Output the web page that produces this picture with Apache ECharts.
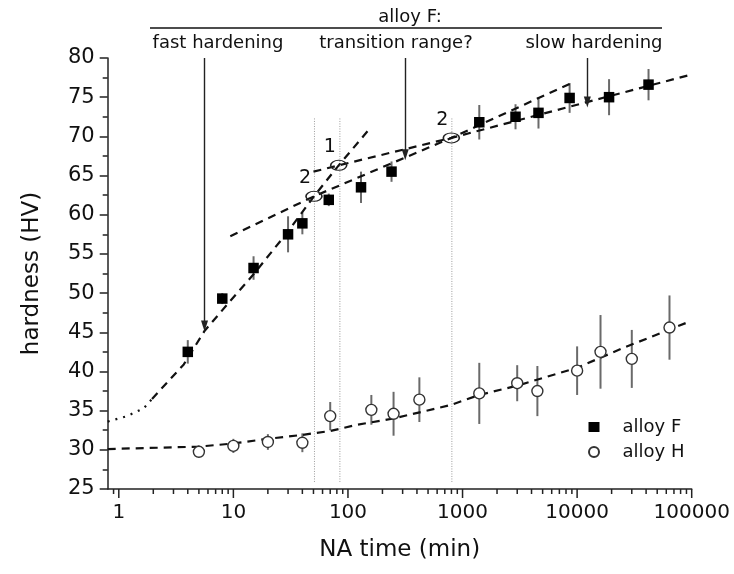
<!DOCTYPE html>
<html>
<head>
<meta charset="utf-8">
<script src="https://cdn.jsdelivr.net/npm/echarts@6/dist/echarts.min.js"></script>
<style>html,body{margin:0;padding:0;background:#fff}#c{width:734px;height:574px}</style>
</head>
<body>
<div id="c"></div>
<script>
// ---- data ----
var fTime = [4, 8, 15, 30, 40, 68, 130, 240, 1400, 2900, 4600, 8600, 19000, 42000];
var fHard = [42.5, 49.3, 53.2, 57.5, 58.9, 61.9, 63.5, 65.5, 71.8, 72.5, 73.0, 74.9, 75.0, 76.6];
var fErr  = [1.5, 0.7, 1.5, 2.3, 1.4, 0.8, 2.0, 1.3, 2.2, 1.6, 2.0, 1.9, 2.3, 2.0];

var hTime = [5, 10, 20, 40, 70, 160, 250, 420, 1400, 3000, 4500, 10000, 16000, 30000, 64000];
var hHard = [29.75, 30.5, 31.0, 30.9, 34.3, 35.1, 34.6, 36.4, 37.2, 38.5, 37.5, 40.1, 42.5, 41.6, 45.6];
var hErr  = [0.7, 0.9, 1.0, 1.2, 1.8, 1.9, 2.8, 2.85, 3.9, 2.3, 3.2, 3.1, 4.7, 3.7, 4.1];

// fitted / guide lines
var fitFDotT  = [0.8, 1.18, 1.65, 1.95];
var fitFDotV  = [33.6, 34.3, 35.3, 36.5];
var fitFDashT = [1.95, 3.69, 5.62, 9.4, 15, 29.4, 50.5, 83, 151];
var fitFDashV = [36.5, 40.9, 45.2, 49.0, 52.4, 57.7, 62.35, 66.3, 70.8];
var slowT  = [50, 83, 798, 100000];
var slowV  = [65.5, 66.3, 69.8, 77.9];
var transT = [9.4, 50.5, 798, 9550];
var transV = [57.25, 62.35, 69.8, 77.0];
var fitHT  = [0.8, 4.9, 9.9, 19.9, 39.7, 70, 120, 250, 780, 1400, 3030, 10100, 25300, 97000];
var fitHV  = [30.1, 30.4, 30.8, 31.4, 31.9, 32.4, 33.2, 34.0, 35.7, 37.0, 38.2, 40.5, 43.0, 46.4];

// vertical dotted markers
var vLineT = [51, 85, 807];
var vLineLo = 25.9, vLineHi = 72.4;

// intersection ellipses
var markT = [83, 50.5, 798];
var markV = [66.3, 62.35, 69.8];
var markLabel = ['1', '2', '2'];

// arrows
var arrowT = [5.6, 316, 12280];
var arrowTip = [45.8, 67.65, 74.4];
var arrowTop = 80;

// axes
var xMajorTicks = [1, 10, 100, 1000, 10000, 100000];
var xMinorTicks = [0.9, 2,3,4,5,6,7,8,9, 20,30,40,50,60,70,80,90, 200,300,400,500,600,700,800,900,
                   2000,3000,4000,5000,6000,7000,8000,9000, 20000,30000,40000,50000,60000,70000,80000,90000];
var yMin = 25, yMax = 80, yStep = 5;
var xMin = 0.8, xMax = 100000;

var FONT = 'DejaVu Sans';

function pairs(a, b) { return a.map(function (t, i) { return [t, b[i]]; }); }

function errSeries(t, v, e) {
  return {
    type: 'custom', silent: true, z: 1,
    data: t.map(function (x, i) { return [x, v[i] - e[i], v[i] + e[i]]; }),
    encode: { x: 0, y: [1, 2] },
    renderItem: function (params, api) {
      var p1 = api.coord([api.value(0), api.value(1)]);
      var p2 = api.coord([api.value(0), api.value(2)]);
      return { type: 'line', shape: { x1: p1[0], y1: p1[1], x2: p2[0], y2: p2[1] },
               style: { stroke: '#6a6a6a', lineWidth: 2 } };
    }
  };
}
function tickSeries(list, len) {
  return {
    type: 'custom', silent: true, clip: false,
    data: list.map(function (t) { return [t, yMin]; }),
    encode: { x: 0, y: 1 },
    renderItem: function (params, api) {
      var p = api.coord([api.value(0), api.value(1)]);
      return { type: 'line', shape: { x1: p[0], y1: p[1], x2: p[0], y2: p[1] + len },
               style: { stroke: '#222', lineWidth: 1.5 } };
    }
  };
}
function lineSeries(t, v, dash, z) {
  return { type: 'line', data: pairs(t, v), showSymbol: false, symbol: 'none', silent: true, z: z || 2,
           lineStyle: { color: '#111', width: 2.2, type: dash } };
}

var series = [];
vLineT.forEach(function (t) {
  series.push({ type: 'line', data: [[t, vLineLo], [t, vLineHi]], symbol: 'none', silent: true, z: 0,
                lineStyle: { color: '#9a9a9a', width: 1, type: [1, 1.5] } });
});
series.push(lineSeries(fitFDotT, fitFDotV, [2, 6]));
series.push(lineSeries(fitFDashT, fitFDashV, [8, 6]));
series.push(lineSeries(slowT, slowV, [8, 6]));
series.push(lineSeries(transT, transV, [8, 6]));
series.push(lineSeries(fitHT, fitHV, [8, 6]));
series.push(errSeries(fTime, fHard, fErr));
series.push(errSeries(hTime, hHard, hErr));
series.push({ name: 'alloy F', type: 'scatter', data: pairs(fTime, fHard), symbol: 'rect', symbolSize: 10.5, z: 5,
              itemStyle: { color: '#000', opacity: 1 } });
series.push({ name: 'alloy H', type: 'scatter', data: pairs(hTime, hHard), symbol: 'circle', symbolSize: 11, z: 5,
              itemStyle: { color: '#fff', borderColor: '#333', borderWidth: 1.4, opacity: 1 } });
series.push({
  type: 'scatter', silent: true, z: 6,
  data: markT.map(function (t, i) { return { value: [t, markV[i]], name: markLabel[i] }; }),
  symbol: 'circle', symbolSize: [16, 10],
  itemStyle: { color: 'rgba(0,0,0,0)', borderColor: '#222', borderWidth: 1.3, opacity: 1 },
  label: { show: true, formatter: '{b}', position: 'top', offset: [-9, 2], color: '#111', fontFamily: FONT, fontSize: 19 },
  markLine: {
    silent: true, symbol: ['none', 'triangle'], symbolSize: [7, 11], label: { show: false },
    lineStyle: { color: '#222', width: 1.4, type: 'solid' },
    data: arrowT.map(function (t, i) { return [{ coord: [t, arrowTop] }, { coord: [t, arrowTip[i]] }]; })
  }
});
series.push(tickSeries(xMajorTicks, 9));
series.push(tickSeries(xMinorTicks, 5));

var option = {
  backgroundColor: '#fff',
  animation: false,
  grid: { left: 107.7, right: 42.3, top: 58, bottom: 85 },
  xAxis: {
    type: 'log', min: xMin, max: xMax, logBase: 10,
    name: 'NA time (min)', nameLocation: 'middle', nameGap: 50,
    nameTextStyle: { fontFamily: FONT, fontSize: 23, color: '#111' },
    axisLine: { lineStyle: { color: '#222', width: 1.5 } },
    axisTick: { show: false }, minorTick: { show: false },
    splitLine: { show: false },
    axisLabel: { fontFamily: FONT, fontSize: 20, color: '#111', margin: 14, showMinLabel: false,
      formatter: function (v) {
        for (var i = 0; i < xMajorTicks.length; i++) if (Math.abs(v - xMajorTicks[i]) / xMajorTicks[i] < 1e-6) return String(xMajorTicks[i]);
        return '';
      } }
  },
  yAxis: {
    type: 'value', min: yMin, max: yMax, interval: yStep,
    name: 'hardness (HV)', nameLocation: 'middle', nameGap: 64, nameRotate: 90,
    nameTextStyle: { fontFamily: FONT, fontSize: 23, color: '#111' },
    axisLine: { show: true, lineStyle: { color: '#222', width: 1.5 } },
    axisTick: { show: true, length: 8, lineStyle: { color: '#222', width: 1.5 } },
    minorTick: { show: true, splitNumber: 2, length: 5, lineStyle: { color: '#222', width: 1.5 } },
    splitLine: { show: false },
    axisLabel: { fontFamily: FONT, fontSize: 21, color: '#111', margin: 13 }
  },
  legend: {
    data: ['alloy F', 'alloy H'], orient: 'vertical', left: 583, top: 413,
    itemWidth: 11, itemHeight: 10, itemGap: 7,
    textStyle: { fontFamily: FONT, fontSize: 18, color: '#111', lineHeight: 18, padding: [0, 0, 0, 18] }
  },
  graphic: [
    { type: 'text', style: { text: 'alloy F:', x: 410, y: 17, align: 'center', verticalAlign: 'middle', font: '18px "DejaVu Sans"', fill: '#111' } },
    { type: 'line', shape: { x1: 150, y1: 28, x2: 662, y2: 28 }, style: { stroke: '#111', lineWidth: 1.5 } },
    { type: 'text', style: { text: 'fast hardening', x: 218, y: 43, align: 'center', verticalAlign: 'middle', font: '18px "DejaVu Sans"', fill: '#111' } },
    { type: 'text', style: { text: 'transition range?', x: 396, y: 43, align: 'center', verticalAlign: 'middle', font: '18px "DejaVu Sans"', fill: '#111' } },
    { type: 'text', style: { text: 'slow hardening', x: 594, y: 43, align: 'center', verticalAlign: 'middle', font: '18px "DejaVu Sans"', fill: '#111' } }
  ],
  series: series
};

echarts.init(document.getElementById('c'), null, { renderer: 'canvas' }).setOption(option);
</script>
</body>
</html>
